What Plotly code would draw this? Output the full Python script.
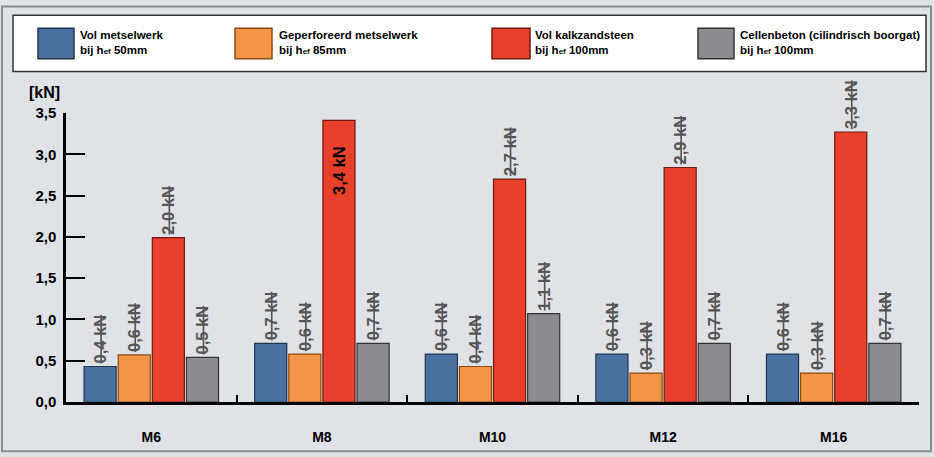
import plotly.graph_objects as go

categories = ["M6", "M8", "M10", "M12", "M16"]

series_names = [
    "Vol metselwerk",
    "Geperforeerd metselwerk",
    "Vol kalkzandsteen",
    "Cellenbeton (cilindrisch boorgat)",
]
series_depth = ["50mm", "85mm", "100mm", "100mm"]

vol_metselwerk = [0.43, 0.71, 0.58, 0.58, 0.58]
geperforeerd = [0.57, 0.58, 0.43, 0.35, 0.35]
kalkzandsteen = [1.99, 3.41, 2.70, 2.84, 3.27]
cellenbeton = [0.54, 0.71, 1.07, 0.71, 0.71]

label_vol = ["0,4 kN", "0,7 kN", "0,6 kN", "0,6 kN", "0,6 kN"]
label_gep = ["0,6 kN", "0,6 kN", "0,4 kN", "0,3 kN", "0,3 kN"]
label_kzs = ["2,0 kN", "3,4 kN", "2,7 kN", "2,9 kN", "3,3 kN"]
label_cel = ["0,5 kN", "0,7 kN", "1,1 kN", "0,7 kN", "0,7 kN"]

values = [vol_metselwerk, geperforeerd, kalkzandsteen, cellenbeton]
labels = [label_vol, label_gep, label_kzs, label_cel]

fills = ["#4a72a0", "#f39447", "#e8402a", "#8a8c8f"]
edges = ["#1f3550", "#8a4a10", "#6e1a10", "#333333"]

W, H = 934, 457
L, R, T, B = 66, 15, 113, 51
pw, ph = W - L - R, H - T - B


def px(x):
    return (x - L) / pw


def py(y):
    return (H - B - y) / ph


bg = "#dfe2e6"
sans = "Liberation Sans, Arial, sans-serif"
label_font = dict(family=sans, size=16.5, color="#555555", weight="bold",
                  lineposition="through")

fig = go.Figure()
for i in range(4):
    positions = ["outside"] * 5
    texts = list(labels[i])
    if i == 2:
        positions[1] = "inside"
        texts[1] = texts[1] + "\u00a0" * 5
    fig.add_trace(go.Bar(
        x=categories, y=values[i], name=series_names[i],
        marker=dict(color=fills[i], line=dict(color=edges[i], width=1.2)),
        text=texts, textposition=positions, textangle=-90,
        insidetextanchor="end", constraintext="none", cliponaxis=False,
        outsidetextfont=label_font,
        insidetextfont=dict(family=sans, size=16.5, color="#000000",
                            weight="bold"),
        showlegend=False, hoverinfo="x+y",
    ))

shapes = [
    dict(type="rect", xref="paper", yref="paper", x0=px(2), x1=px(931),
         y0=py(456), y1=py(5), line=dict(color="#8a8c8e", width=2),
         fillcolor="rgba(0,0,0,0)", layer="below"),
    dict(type="rect", xref="paper", yref="paper", x0=px(13), x1=px(926),
         y0=py(71), y1=py(14), line=dict(color="#333333", width=1.5),
         fillcolor="#ffffff", layer="below"),
]
annotations = []
sw_x = [(38, 74), (235, 272), (492, 530), (698, 734)]
tx_x = [78, 277, 533, 738]
for i in range(4):
    shapes.append(dict(type="rect", xref="paper", yref="paper",
                       x0=px(sw_x[i][0]), x1=px(sw_x[i][1]),
                       y0=py(58), y1=py(27), fillcolor=fills[i],
                       line=dict(color=edges[i], width=1.5)))
    annotations.append(dict(
        xref="paper", yref="paper", x=px(tx_x[i]), y=py(42),
        xanchor="left", yanchor="middle", align="left", showarrow=False,
        text=series_names[i] + "<br>bij h<span style='font-size:8px'>ef</span> " + series_depth[i],
        font=dict(family=sans, size=11.5, color="#000", weight="bold"),
    ))

annotations.append(dict(
    xref="paper", yref="paper", x=px(27), y=py(92), xanchor="left",
    yanchor="middle", showarrow=False, text="[kN]",
    font=dict(family=sans, size=16, color="#000", weight="bold"),
))

fig.update_layout(
    width=W, height=H,
    margin=dict(l=L, r=R, t=T, b=B),
    paper_bgcolor=bg, plot_bgcolor=bg,
    barmode="group", bargap=0.2, bargroupgap=0.06,
    separators=", ",
    shapes=shapes, annotations=annotations,
    showlegend=False,
    xaxis=dict(
        type="category", showline=True, linecolor="#000", linewidth=2.5,
        ticks="inside", tickson="boundaries", ticklen=7, tickwidth=2,
        tickcolor="#000", showgrid=False, zeroline=False,
        ticklabelstandoff=20,
        tickfont=dict(family=sans, size=14, color="#000", weight="bold"),
    ),
    yaxis=dict(
        range=[0, 3.5], tickvals=[0, 0.5, 1, 1.5, 2, 2.5, 3, 3.5],
        tickformat=".1f", showline=True, linecolor="#000", linewidth=2.5,
        ticks="inside", ticklen=19, tickwidth=2, tickcolor="#000",
        showgrid=False, zeroline=False, ticklabelstandoff=4,
        tickfont=dict(family=sans, size=15, color="#000", weight="bold"),
    ),
)

fig.write_html("out.html", config={"displayModeBar": False},
               post_script="document.body.style.margin='0';document.body.style.background='%s';" % bg)
